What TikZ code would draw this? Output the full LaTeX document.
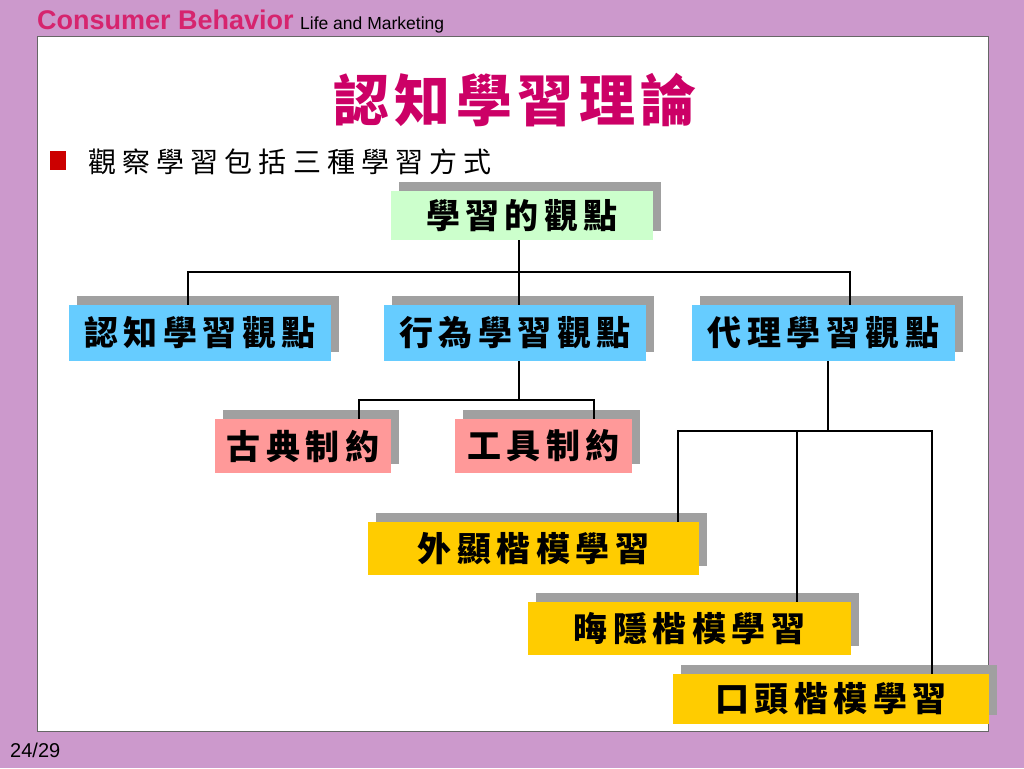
\documentclass[tikz,border=0pt]{standalone}
\usepackage{fontspec}
\setmainfont{Liberation Sans}
\newfontfamily\cjk{Noto Sans CJK TC}
\newfontfamily\cjkbox{Noto Sans CJK TC}[LetterSpace=16]
\newfontfamily\cjkwide{Noto Sans CJK TC}[LetterSpace=22]
\newfontfamily\cjktitle{Noto Sans CJK TC}[LetterSpace=10]
\usetikzlibrary{positioning}
\usetikzlibrary{shadows}
\definecolor{slidebg}{RGB}{204,153,204}
\definecolor{headpink}{RGB}{214,36,110}
\definecolor{titlepink}{RGB}{204,0,102}
\definecolor{viewgreen}{RGB}{204,255,204}
\definecolor{viewblue}{RGB}{102,204,255}
\definecolor{condpink}{RGB}{255,153,153}
\definecolor{modelgold}{RGB}{255,204,0}
\definecolor{shadowgray}{RGB}{160,160,160}
\newcommand\boxfont{\cjkbox\bfseries\fontsize{34}{34}\selectfont}
\tikzset{
    % A flat grey block shadow, up and to the right
    block shadow/.style={
        drop shadow={shadow xshift=8pt, shadow yshift=9pt,
            fill=shadowgray, opacity=1}},
%
    % Every box of the chart
    chart box/.style={block shadow, inner sep=0pt, font=\boxfont},
%
    % The fills of the four levels
    view fill/.style={fill=viewgreen},
    school fill/.style={fill=viewblue},
    cond fill/.style={fill=condpink},
    model fill/.style={fill=modelgold},
%
    % The plain lines of the tree
    tree line/.style={draw, line width=1.5pt}}

\begin{document}
\begin{tikzpicture}[x=1pt, y=-1pt]

\useasboundingbox (0,0) rectangle (1024,768);
\fill[slidebg] (0,0) rectangle (1024,768);
\draw[fill=white, draw=black!60, line width=1pt] (37,37) rectangle (988,731);

\node (brand) [anchor=base west, inner sep=0pt, text=headpink,
    font=\bfseries\fontsize{27}{27}\selectfont] at (37,30) {Consumer Behavior};
\node (subbrand) [inner sep=0pt, right=6pt of brand.base east,
    anchor=base west, font=\fontsize{17.5}{17.5}\selectfont] {Life and Marketing};
\node (page) [anchor=base west, inner sep=0pt,
    font=\fontsize{20}{20}\selectfont] at (10,757) {24/29};

\node (title) [text=titlepink, inner sep=0pt,
    font=\cjktitle\bfseries\fontsize{56}{56}\selectfont] at (515,100) {認知學習理論};
\node (bullet) [fill=red!80!black, minimum width=16pt, minimum height=19pt,
    inner sep=0pt] at (58,160) {};
\node (intro) [anchor=west, inner sep=0pt,
    font=\cjkwide\fontsize{28}{28}\selectfont] at (88,162) {觀察學習包括三種學習方式};

% top of the tree
\node (view) [chart box, view fill, minimum width=262pt, minimum height=49pt]
    at (522,215.5) {學習的觀點};

% the three schools
\node (cog) [chart box, school fill, minimum width=262pt, minimum height=56pt]
    at (200,333) {認知學習觀點};
\node (behav) [chart box, school fill, minimum width=262pt, minimum height=56pt]
    at (515,333) {行為學習觀點};
\node (agent) [chart box, school fill, minimum width=263pt, minimum height=56pt]
    at (823.5,333) {代理學習觀點};

% conditioning
\node (classic) [chart box, cond fill, minimum width=176pt, minimum height=54pt]
    at (303,446) {古典制約};
\node (instr) [chart box, cond fill, minimum width=177pt, minimum height=54pt]
    at (543.5,446) {工具制約};

% modelling
\node (overt) [chart box, model fill, minimum width=331pt, minimum height=53pt]
    at (533.5,548.5) {外顯楷模學習};
\node (covert) [chart box, model fill, minimum width=323pt, minimum height=53pt]
    at (689.5,628.5) {晦隱楷模學習};
\node (verbal) [chart box, model fill, minimum width=316pt, minimum height=50pt]
    at (831,699) {口頭楷模學習};

\coordinate (bus1) at (519,272);
\coordinate (bus2) at (519,400);
\coordinate (bus3) at (828,431);

\path [tree line] ([xshift=-3pt]view.south) -- (bus1);
\path [tree line] ([xshift=-12pt]cog.north) |- (bus1) -| ([xshift=26.5pt]agent.north);
\path [tree line] (bus1) -- ([xshift=4pt]behav.north);

\path [tree line] ([xshift=4pt]behav.south) -- (bus2);
\path [tree line] ([xshift=56pt]classic.north) |- (bus2) -| ([xshift=50.5pt]instr.north);

\coordinate (covtop) at ([xshift=107.5pt]covert.north);
\path [tree line] ([xshift=4.5pt]agent.south) -- (bus3);
\path [tree line] ([xshift=144.5pt]overt.north) |- (bus3) -| ([xshift=101pt]verbal.north);
\path [tree line] (covtop) -- (covtop |- bus3);

\end{tikzpicture}
\end{document}
